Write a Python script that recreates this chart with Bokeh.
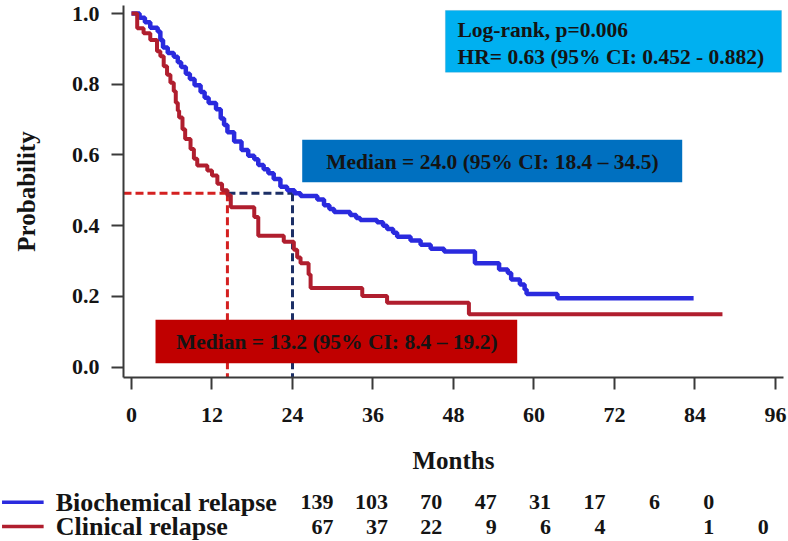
from bokeh.plotting import figure
from bokeh.models import Range1d, FixedTicker, Label, BoxAnnotation, CustomJSTickFormatter
from bokeh.core.properties import value
from bokeh.embed import file_html
from bokeh.resources import INLINE

# ---------------- data ----------------
bio_t = [0, 1.2, 2.0, 2.8, 3.9, 4.3, 4.7, 5.4, 6.3, 6.9, 7.4, 8.1, 8.7, 9.4, 10.3, 10.9,
         11.5, 12.6, 13.3, 13.8, 14.3, 15.3, 16.4, 17.4, 18.3, 18.9, 19.7, 20.4, 21.2,
         22.2, 23.2, 24.3, 25.2, 27.7, 28.7, 29.5, 30.2, 32.6, 33.5, 34.1, 36.6, 37.5,
         38.1, 39.0, 39.6, 41.6, 43.1, 44.6, 46.6, 51.2, 54.8, 56.1, 56.6, 57.9, 58.6,
         58.9, 63.5, 83.8]
bio_s = [1.0, 0.988, 0.975, 0.960, 0.949, 0.925, 0.904, 0.888, 0.878, 0.862, 0.849, 0.830,
         0.815, 0.797, 0.778, 0.762, 0.747, 0.729, 0.703, 0.685, 0.664, 0.638, 0.614,
         0.598, 0.588, 0.572, 0.560, 0.548, 0.532, 0.510, 0.500, 0.492, 0.484, 0.474,
         0.458, 0.447, 0.439, 0.430, 0.422, 0.416, 0.410, 0.400, 0.391, 0.380, 0.369,
         0.358, 0.346, 0.335, 0.327, 0.294, 0.276, 0.266, 0.248, 0.234, 0.220, 0.207,
         0.195, 0.195]

clin_t = [0, 0.85, 1.8, 2.8, 3.8, 4.3, 4.8, 5.3, 5.8, 6.3, 6.6, 6.9, 7.1, 7.6, 8.0, 8.8,
          9.3, 9.8, 11.3, 12.0, 12.8, 13.5, 14.3, 14.8, 18.3, 18.9, 22.7, 24.2, 24.7,
          25.2, 26.4, 26.7, 34.4, 38.1, 50.3, 88.1]
clin_s = [1.0, 0.958, 0.944, 0.925, 0.893, 0.879, 0.851, 0.827, 0.804, 0.780, 0.748,
          0.725, 0.706, 0.673, 0.645, 0.617, 0.589, 0.570, 0.556, 0.542, 0.519, 0.500,
          0.486, 0.452, 0.425, 0.372, 0.355, 0.332, 0.310, 0.294, 0.262, 0.224, 0.201,
          0.182, 0.150, 0.150]

median_level = 0.492
median_clin_t = 14.3
median_bio_t = 24.0

x_ticks = [0, 12, 24, 36, 48, 60, 72, 84, 96]
y_ticks = [0.0, 0.2, 0.4, 0.6, 0.8, 1.0]

series_names = ["Biochemical relapse", "Clinical relapse"]
bio_at_risk = [139, 103, 70, 47, 31, 17, 6, 0, None]
clin_at_risk = [67, 37, 22, 9, 6, 4, None, 1, 0]

stats_lines = ["Log-rank, p=0.006", "HR= 0.63 (95% CI: 0.452 - 0.882)"]
bio_median_text = "Median = 24.0 (95% CI: 18.4 \u2013 34.5)"
clin_median_text = "Median = 13.2 (95% CI: 8.4 \u2013 19.2)"

# ---------------- styling ----------------
BLUE = "#2a2ade"
RED = "#b01e2e"
DASH_RED = "#d42020"
DASH_NAVY = "#1c2f66"
FONT = "Liberation Serif"
TXT = "#141414"
AX = "#3a3a3a"

x0, x1 = -1.193, 97.2
y0, y1 = -0.0291, 1.0226

p = figure(width=788, height=480, output_backend="svg", toolbar_location=None,
           x_range=Range1d(x0, x1), y_range=Range1d(y0, y1),
           min_border_left=123, min_border_right=5, min_border_top=5,
           min_border_bottom=103)
p.outline_line_color = None
p.xgrid.visible = False
p.ygrid.visible = False

for ax in (p.xaxis[0], p.yaxis[0]):
    ax.axis_line_color = AX
    ax.axis_line_width = 2
    ax.major_tick_line_color = AX
    ax.major_tick_line_width = 2
    ax.major_tick_out = 12
    ax.major_tick_in = 0
    ax.minor_tick_line_color = None
    ax.major_label_text_font = FONT
    ax.major_label_text_font_style = "bold"
    ax.major_label_text_font_size = "22px"
    ax.major_label_text_color = TXT
    ax.axis_label_text_font = FONT
    ax.axis_label_text_font_style = "bold"
    ax.axis_label_text_font_size = "25px"
    ax.axis_label_text_color = TXT

p.xaxis.ticker = FixedTicker(ticks=x_ticks)
p.yaxis.ticker = FixedTicker(ticks=y_ticks)
p.yaxis.formatter = CustomJSTickFormatter(code="return tick.toFixed(1);")
p.xaxis.major_label_standoff = 18
p.yaxis.major_label_standoff = 12
p.xaxis.axis_label = "Months"
p.xaxis.axis_label_standoff = 22
p.yaxis.axis_label = "Probability"
p.yaxis.axis_label_standoff = 29

# median guide lines
p.segment(x0=[x0], y0=[median_level], x1=[median_clin_t], y1=[median_level],
          line_color=DASH_RED, line_width=3, line_dash="8 4")
p.segment(x0=[median_clin_t], y0=[median_level], x1=[median_clin_t], y1=[y0],
          line_color=DASH_RED, line_width=3, line_dash="8 4")
p.segment(x0=[median_clin_t], y0=[median_level], x1=[median_bio_t], y1=[median_level],
          line_color=DASH_NAVY, line_width=3, line_dash="8 4")
p.segment(x0=[median_bio_t], y0=[median_level], x1=[median_bio_t], y1=[y0],
          line_color=DASH_NAVY, line_width=3, line_dash="8 4")

# survival curves
p.step(x=bio_t, y=bio_s, mode="after", line_color=BLUE, line_width=4.5)
p.step(x=clin_t, y=clin_s, mode="after", line_color=RED, line_width=4)

# annotation boxes
p.add_layout(BoxAnnotation(left=46.8, right=96.9, top=1.0085, bottom=0.834,
                           fill_color="#00b0f0", fill_alpha=1.0,
                           line_color="#2e95c8", line_width=1))
p.add_layout(BoxAnnotation(left=25.45, right=82.1, top=0.6429, bottom=0.523,
                           fill_color="#0070c0", fill_alpha=1.0, line_color=None))
p.add_layout(BoxAnnotation(left=3.58, right=57.5, top=0.134, bottom=0.0113,
                           fill_color="#c00000", fill_alpha=1.0, line_color=None))

def lab(x, y, text, size="21px", align="center"):
    p.add_layout(Label(x=x, y=y, text=text, text_font=FONT, text_font_style="bold",
                       text_font_size=size, text_color=TXT, text_align=align,
                       text_baseline="middle"))

lab(48.6, 0.952, stats_lines[0], "21.5px", "left")
lab(48.6, 0.876, stats_lines[1], "21.5px", "left")
lab(53.8, 0.580, bio_median_text, "21.5px")
lab(30.6, 0.070, clin_median_text, "21.5px")

# ---------------- risk table (separate strip, same month scale) ----------------
r = figure(width=788, height=61, output_backend="svg", toolbar_location=None,
           x_range=Range1d(-19.53, 97.94), y_range=Range1d(1.617, -0.893),
           x_axis_type=None, y_axis_type=None,
           min_border_left=0, min_border_right=0, min_border_top=0, min_border_bottom=0)
r.outline_line_color = None
r.xgrid.visible = False
r.ygrid.visible = False

col_x0 = 30.11
col_dx = 8.11
for row, (name, counts, col) in enumerate(zip(series_names, [bio_at_risk, clin_at_risk], [BLUE, RED])):
    r.segment(x0=[-19.3], y0=[row], x1=[-13.1], y1=[row], line_color=col, line_width=3.5)
    r.text(x=[-11.3], y=[row], text=[name], text_font=value(FONT), text_font_style="bold",
           text_font_size="26px", text_color=TXT, text_align="left", text_baseline="middle")
    xs = [col_x0 + k * col_dx for k, c in enumerate(counts) if c is not None]
    ts = [str(c) for c in counts if c is not None]
    r.text(x=xs, y=[row] * len(xs), text=ts, text_font=value(FONT), text_font_style="bold",
           text_font_size="22px", text_color=TXT, text_align="right", text_baseline="middle")

open("out.html", "w").write(file_html([p, r], INLINE))
